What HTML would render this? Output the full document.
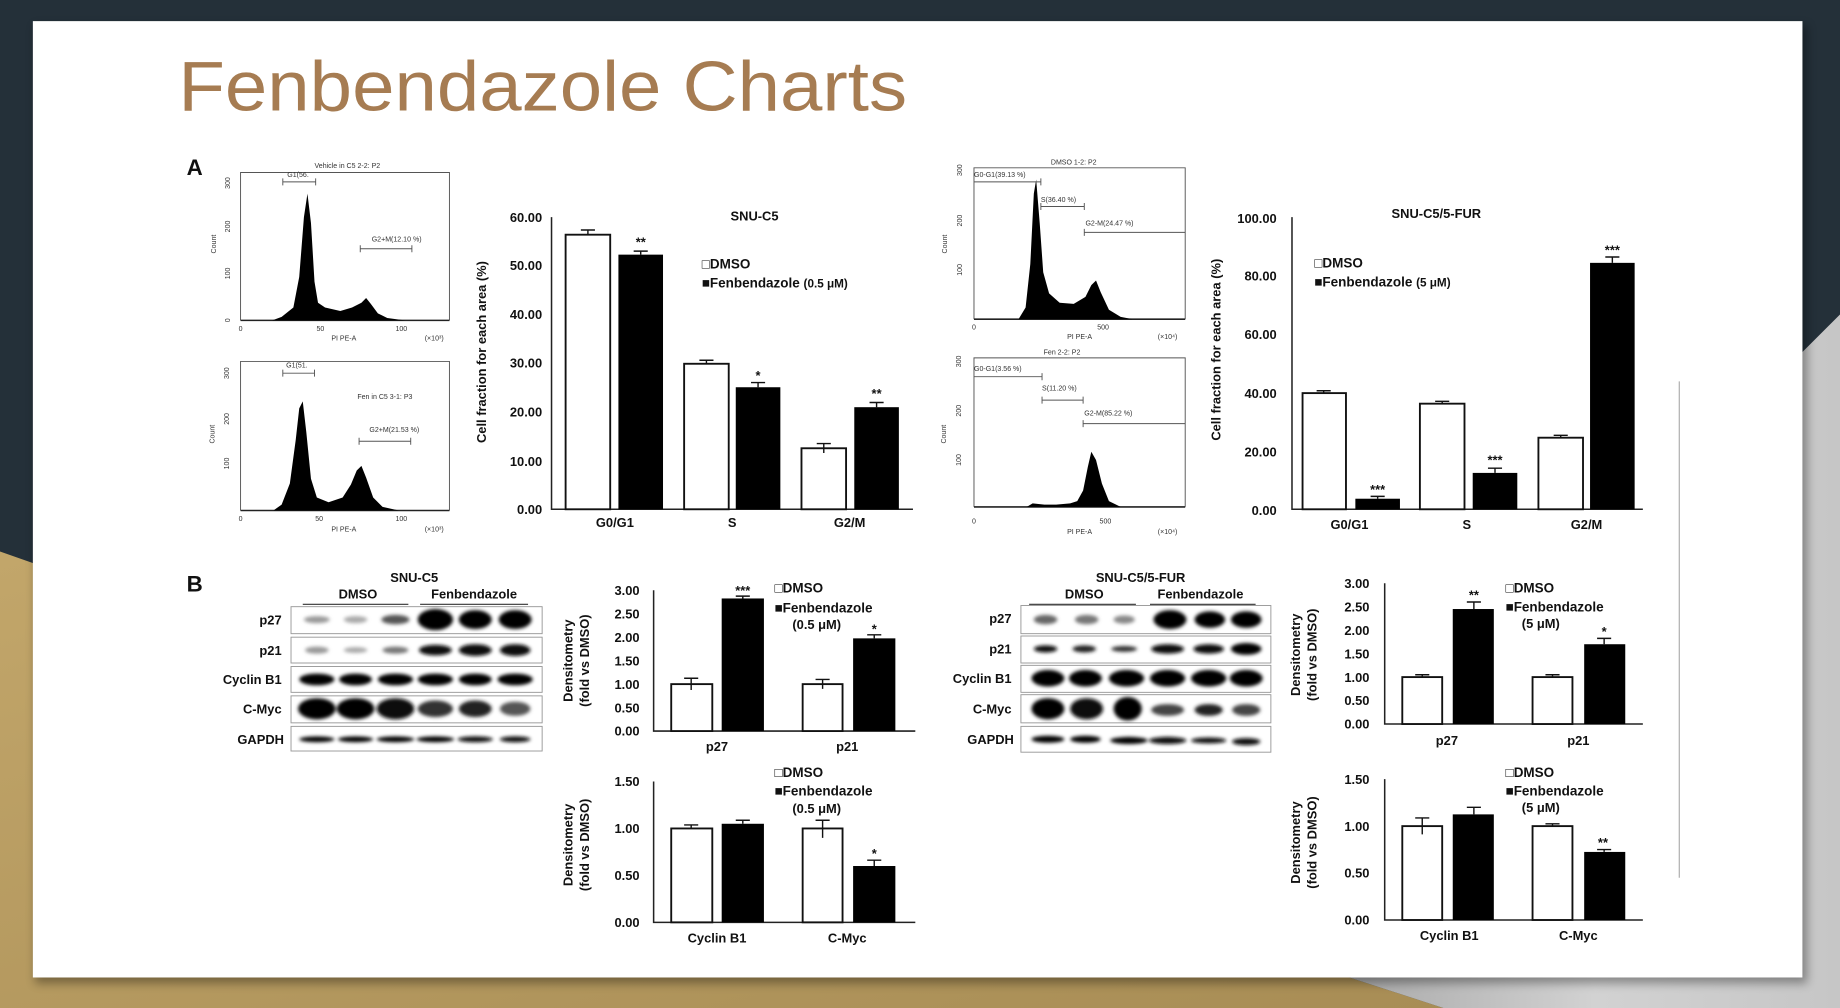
<!DOCTYPE html>
<html><head><meta charset="utf-8">
<style>
html,body{margin:0;padding:0;width:1840px;height:1008px;overflow:hidden;background:#243039;}
svg{display:block}
text{font-family:"Liberation Sans",Arial,sans-serif;}
.t{font-weight:bold;font-size:11px;fill:#111}
.s{font-size:6px;fill:#333}
.bw{fill:#fff;stroke:#111;stroke-width:1.6}
.bk{fill:#000}
.ax{stroke:#222;stroke-width:1.3;fill:none}
.eb{stroke:#111;stroke-width:1.2;fill:none}
.lg{font-weight:bold;font-size:11.5px;fill:#111}
.gr{stroke:#555;stroke-width:0.8;fill:none}
</style></head>
<body>
<svg width="1840" height="1008" viewBox="0 0 1568 859" preserveAspectRatio="none" xmlns="http://www.w3.org/2000/svg">
<defs>
<linearGradient id="gold" x1="0" y1="0" x2="1" y2="1"><stop offset="0" stop-color="#c2a66a"/><stop offset="1" stop-color="#a88d55"/></linearGradient>
<linearGradient id="gray" x1="0" y1="0" x2="1" y2="0"><stop offset="0" stop-color="#a9a9a9"/><stop offset="0.5" stop-color="#d2d2d2"/><stop offset="1" stop-color="#c6c6c6"/></linearGradient>
<filter id="bl" x="-20%" y="-50%" width="140%" height="200%"><feGaussianBlur stdDeviation="1.6"/></filter>
<filter id="sh" x="-5%" y="-5%" width="110%" height="110%"><feGaussianBlur stdDeviation="4"/></filter>
</defs>
<rect width="1568" height="859" fill="#243039"/>
<polygon points="0,470 40,484 1150,833 1230,859 0,859" fill="url(#gold)"/>
<polygon points="1536,300 1568,268 1568,859 1230,859 1150,833 1536,833" fill="url(#gray)"/>
<rect x="30" y="22" width="1510" height="816" fill="#000" opacity="0.35" filter="url(#sh)"/>
<rect x="28" y="18" width="1508" height="815" fill="#fff"/>

<text x="152" y="94" font-size="60" fill="#a67c52" textLength="621" lengthAdjust="spacingAndGlyphs">Fenbendazole Charts</text>

<!-- A label -->
<text x="159" y="149" font-size="19" font-weight="bold" fill="#111">A</text>
<text x="159" y="504" font-size="19" font-weight="bold" fill="#111">B</text>

<!-- Histogram top-left -->
<g>
<polyline class="gr" points="205,273 205,147 383,147 383,273"/>
<line class="ax" x1="205" y1="273" x2="383" y2="273"/>
<path d="M232,273 L240,270 L250,262 L255,236 L259,185 L262,165 L265,190 L268,240 L271,258 L277,262 L290,265 L300,262 L308,258 L312,254 L316,259 L322,267 L330,271 L345,273 Z" fill="#000"/>
<text class="s" x="296" y="143" text-anchor="middle">Vehicle in C5 2-2: P2</text>
<text class="s" x="254" y="151" text-anchor="middle">G1(56.</text>
<path class="gr" d="M241,155 H269 M241,152 V158 M269,152 V158"/>
<text class="s" x="338" y="206" text-anchor="middle">G2+M(12.10 %)</text>
<path class="gr" d="M307,212 H351 M307,209 V215 M351,209 V215"/>
<text class="s" x="205" y="282" text-anchor="middle">0</text>
<text class="s" x="273" y="282" text-anchor="middle">50</text>
<text class="s" x="342" y="282" text-anchor="middle">100</text>
<text class="s" x="293" y="290" text-anchor="middle">PI PE-A</text>
<text class="s" x="370" y="290" text-anchor="middle">(×10³)</text>
<text class="s" transform="translate(184,208) rotate(-90)" text-anchor="middle">Count</text>
<text class="s" transform="translate(196,156) rotate(-90)" text-anchor="middle">300</text>
<text class="s" transform="translate(196,193) rotate(-90)" text-anchor="middle">200</text>
<text class="s" transform="translate(196,233) rotate(-90)" text-anchor="middle">100</text>
<text class="s" transform="translate(196,273) rotate(-90)" text-anchor="middle">0</text>
</g>
<!-- Histogram bottom-left -->
<g>
<polyline class="gr" points="205,435 205,308 383,308 383,435"/>
<line class="ax" x1="205" y1="435" x2="383" y2="435"/>
<path d="M233,435 L240,430 L247,412 L252,375 L255,348 L258,342 L261,368 L265,408 L270,424 L280,428 L292,424 L299,413 L304,401 L308,397 L312,407 L318,424 L326,432 L340,435 Z" fill="#000"/>
<text class="s" x="253" y="313" text-anchor="middle">G1(51.</text>
<path class="gr" d="M241,318 H268 M241,315 V321 M268,315 V321"/>
<text class="s" x="328" y="340" text-anchor="middle">Fen in C5 3-1: P3</text>
<text class="s" x="336" y="368" text-anchor="middle">G2+M(21.53 %)</text>
<path class="gr" d="M306,376 H350 M306,373 V379 M350,373 V379"/>
<text class="s" x="205" y="444" text-anchor="middle">0</text>
<text class="s" x="272" y="444" text-anchor="middle">50</text>
<text class="s" x="342" y="444" text-anchor="middle">100</text>
<text class="s" x="293" y="453" text-anchor="middle">PI PE-A</text>
<text class="s" x="370" y="453" text-anchor="middle">(×10³)</text>
<text class="s" transform="translate(183,370) rotate(-90)" text-anchor="middle">Count</text>
<text class="s" transform="translate(195,318) rotate(-90)" text-anchor="middle">300</text>
<text class="s" transform="translate(195,357) rotate(-90)" text-anchor="middle">200</text>
<text class="s" transform="translate(195,395) rotate(-90)" text-anchor="middle">100</text>
</g>

<!-- SNU-C5 bar chart -->
<g>
<text class="t" x="643" y="188" text-anchor="middle">SNU-C5</text>
<g class="t" text-anchor="end">
<text x="462" y="189">60.00</text><text x="462" y="230">50.00</text><text x="462" y="272">40.00</text>
<text x="462" y="313">30.00</text><text x="462" y="355">20.00</text><text x="462" y="397">10.00</text><text x="462" y="438">0.00</text>
</g>
<text class="t" transform="translate(414,300) rotate(-90)" text-anchor="middle" font-size="10.5">Cell fraction for each area (%)</text>
<path class="ax" d="M470,185 V434 H778"/>
<rect class="bw" x="482" y="200" width="38" height="234"/>
<rect class="bk" x="527" y="217" width="38" height="217"/>
<rect class="bw" x="583" y="310" width="38" height="124"/>
<rect class="bk" x="627" y="330" width="38" height="104"/>
<rect class="bw" x="683" y="382" width="38" height="52"/>
<rect class="bk" x="728" y="347" width="38" height="87"/>
<path class="eb" d="M501,200 V196 M495,196 H507 M546,217 V214 M540,214 H552 M602,310 V307 M596,307 H608 M646,330 V326 M640,326 H652 M702,382 V378 M696,378 H708 M702,382 V386 M747,347 V343 M741,343 H753"/>
<g class="t" text-anchor="middle"><text x="546" y="210">**</text><text x="646" y="324">*</text><text x="747" y="339">**</text>
<text x="524" y="449">G0/G1</text><text x="624" y="449">S</text><text x="724" y="449">G2/M</text></g>
<text class="lg" x="598" y="229">□DMSO</text>
<text class="lg" x="598" y="245">■Fenbendazole <tspan font-size="10">(0.5 μM)</tspan></text>
</g>

<!-- Histogram top-right -->
<g>
<polyline class="gr" points="830,272 830,143 1010,143 1010,272"/>
<line class="ax" x1="830" y1="272" x2="1010" y2="272"/>
<path d="M868,272 L874,262 L878,225 L881,165 L883,153 L886,190 L889,232 L894,250 L903,258 L915,259 L925,253 L930,243 L934,239 L938,249 L945,264 L955,270 L965,272 Z" fill="#000"/>
<text class="s" x="915" y="140" text-anchor="middle">DMSO 1-2: P2</text>
<text class="s" x="830" y="151">G0-G1(39.13 %)</text>
<path class="gr" d="M830,155 H887 M887,152 V158"/>
<text class="s" x="887" y="172">S(36.40 %)</text>
<path class="gr" d="M887,176 H924 M887,173 V179 M924,173 V179"/>
<text class="s" x="925" y="192">G2-M(24.47 %)</text>
<path class="gr" d="M924,198 H1010 M924,195 V201"/>
<text class="s" x="830" y="281" text-anchor="middle">0</text>
<text class="s" x="940" y="281" text-anchor="middle">500</text>
<text class="s" x="920" y="289" text-anchor="middle">PI PE-A</text>
<text class="s" x="995" y="289" text-anchor="middle">(×10⁴)</text>
<text class="s" transform="translate(807,208) rotate(-90)" text-anchor="middle">Count</text>
<text class="s" transform="translate(820,145) rotate(-90)" text-anchor="middle">300</text>
<text class="s" transform="translate(820,188) rotate(-90)" text-anchor="middle">200</text>
<text class="s" transform="translate(820,230) rotate(-90)" text-anchor="middle">100</text>
</g>
<!-- Histogram bottom-right -->
<g>
<polyline class="gr" points="830,432 830,305 1010,305 1010,432"/>
<line class="ax" x1="830" y1="432" x2="1010" y2="432"/>
<path d="M875,432 L880,429 L890,430 L900,430 L912,429 L918,427 L923,418 L927,398 L930,385 L934,392 L939,412 L945,427 L955,432 Z" fill="#000"/>
<text class="s" x="905" y="302" text-anchor="middle">Fen 2-2: P2</text>
<text class="s" x="830" y="316">G0-G1(3.56 %)</text>
<path class="gr" d="M830,321 H888 M888,318 V324"/>
<text class="s" x="888" y="333">S(11.20 %)</text>
<path class="gr" d="M888,341 H923 M888,338 V344 M923,338 V344"/>
<text class="s" x="924" y="354">G2-M(85.22 %)</text>
<path class="gr" d="M923,361 H1010 M923,358 V364"/>
<text class="s" x="830" y="446" text-anchor="middle">0</text>
<text class="s" x="942" y="446" text-anchor="middle">500</text>
<text class="s" x="920" y="455" text-anchor="middle">PI PE-A</text>
<text class="s" x="995" y="455" text-anchor="middle">(×10⁴)</text>
<text class="s" transform="translate(806,370) rotate(-90)" text-anchor="middle">Count</text>
<text class="s" transform="translate(819,308) rotate(-90)" text-anchor="middle">300</text>
<text class="s" transform="translate(819,350) rotate(-90)" text-anchor="middle">200</text>
<text class="s" transform="translate(819,392) rotate(-90)" text-anchor="middle">100</text>
</g>

<!-- SNU-C5/5-FUR bar chart -->
<g>
<text class="t" x="1224" y="186" text-anchor="middle">SNU-C5/5-FUR</text>
<g class="t" text-anchor="end">
<text x="1088" y="190">100.00</text><text x="1088" y="239">80.00</text><text x="1088" y="289">60.00</text>
<text x="1088" y="339">40.00</text><text x="1088" y="389">20.00</text><text x="1088" y="439">0.00</text>
</g>
<text class="t" transform="translate(1040,298) rotate(-90)" text-anchor="middle" font-size="10.5">Cell fraction for each area (%)</text>
<path class="ax" d="M1101,185 V434 H1400"/>
<rect class="bw" x="1110" y="335" width="37" height="99"/>
<rect class="bk" x="1155" y="425" width="38" height="9"/>
<rect class="bw" x="1210" y="344" width="38" height="90"/>
<rect class="bk" x="1255" y="403" width="38" height="31"/>
<rect class="bw" x="1311" y="373" width="38" height="61"/>
<rect class="bk" x="1355" y="224" width="38" height="210"/>
<path class="eb" d="M1128,335 V333 M1122,333 H1134 M1174,425 V423 M1168,423 H1180 M1229,344 V342 M1223,342 H1235 M1274,403 V399 M1268,399 H1280 M1330,373 V371 M1324,371 H1336 M1374,224 V219 M1368,219 H1380"/>
<g class="t" text-anchor="middle"><text x="1174" y="421">***</text><text x="1274" y="396">***</text><text x="1374" y="217">***</text>
<text x="1150" y="451">G0/G1</text><text x="1250" y="451">S</text><text x="1352" y="451">G2/M</text></g>
<text class="lg" x="1120" y="228">□DMSO</text>
<text class="lg" x="1120" y="244">■Fenbendazole <tspan font-size="10">(5 μM)</tspan></text>
</g>
<line x1="1431" y1="325" x2="1431" y2="748" stroke="#999" stroke-width="0.8"/>

<!-- Blot left -->
<g>
<text class="t" x="353" y="496" text-anchor="middle">SNU-C5</text>
<text class="t" x="305" y="510" text-anchor="middle">DMSO</text>
<text class="t" x="404" y="510" text-anchor="middle">Fenbendazole</text>
<path d="M258,515 H348 M358,515 H450" stroke="#333" stroke-width="1"/>
<g class="t" text-anchor="end"><text x="240" y="532">p27</text><text x="240" y="558">p21</text><text x="240" y="583">Cyclin B1</text><text x="240" y="608">C-Myc</text><text x="242" y="634">GAPDH</text></g>
<g fill="#fff" stroke="#999" stroke-width="0.8">
<rect x="248" y="517" width="214" height="23"/><rect x="248" y="543" width="214" height="22"/><rect x="248" y="568" width="214" height="22"/><rect x="248" y="593" width="214" height="23"/><rect x="248" y="619" width="214" height="21"/></g>
<g filter="url(#bl)">
<ellipse cx="270" cy="528" rx="11" ry="3" fill="#999"/><ellipse cx="303" cy="528" rx="10" ry="3" fill="#aaa"/><ellipse cx="337" cy="528" rx="12" ry="4" fill="#555"/>
<ellipse cx="371" cy="528" rx="15" ry="9" fill="#000"/><ellipse cx="405" cy="528" rx="14" ry="8" fill="#000"/><ellipse cx="439" cy="528" rx="14" ry="8" fill="#000"/>
<ellipse cx="270" cy="554" rx="10" ry="3" fill="#999"/><ellipse cx="303" cy="554" rx="10" ry="2.5" fill="#aaa"/><ellipse cx="337" cy="554" rx="11" ry="3" fill="#777"/>
<ellipse cx="371" cy="554" rx="14" ry="4.5" fill="#111"/><ellipse cx="405" cy="554" rx="14" ry="5" fill="#111"/><ellipse cx="439" cy="554" rx="13" ry="5" fill="#111"/>
<ellipse cx="270" cy="579" rx="15" ry="5" fill="#000"/><ellipse cx="303" cy="579" rx="14" ry="5" fill="#000"/><ellipse cx="337" cy="579" rx="15" ry="5" fill="#000"/>
<ellipse cx="371" cy="579" rx="15" ry="5" fill="#000"/><ellipse cx="405" cy="579" rx="14" ry="5" fill="#000"/><ellipse cx="439" cy="579" rx="15" ry="5" fill="#000"/>
<ellipse cx="270" cy="604" rx="16" ry="9" fill="#000"/><ellipse cx="303" cy="604" rx="16" ry="9" fill="#000"/><ellipse cx="337" cy="604" rx="16" ry="9" fill="#111"/>
<ellipse cx="371" cy="604" rx="15" ry="7" fill="#333"/><ellipse cx="405" cy="604" rx="14" ry="7" fill="#222"/><ellipse cx="439" cy="604" rx="13" ry="6" fill="#555"/>
<ellipse cx="270" cy="630" rx="15" ry="2.5" fill="#000"/><ellipse cx="303" cy="630" rx="15" ry="2.5" fill="#000"/><ellipse cx="337" cy="630" rx="16" ry="2.5" fill="#000"/>
<ellipse cx="371" cy="630" rx="16" ry="2.5" fill="#000"/><ellipse cx="405" cy="630" rx="15" ry="2.5" fill="#111"/><ellipse cx="439" cy="630" rx="13" ry="2.5" fill="#111"/>
</g></g>

<!-- Blot right -->
<g>
<text class="t" x="972" y="496" text-anchor="middle">SNU-C5/5-FUR</text>
<text class="t" x="924" y="510" text-anchor="middle">DMSO</text>
<text class="t" x="1023" y="510" text-anchor="middle">Fenbendazole</text>
<path d="M877,515 H968 M980,515 H1070" stroke="#333" stroke-width="1"/>
<g class="t" text-anchor="end"><text x="862" y="531">p27</text><text x="862" y="557">p21</text><text x="862" y="582">Cyclin B1</text><text x="862" y="608">C-Myc</text><text x="864" y="634">GAPDH</text></g>
<g fill="#fff" stroke="#999" stroke-width="0.8">
<rect x="870" y="516" width="213" height="24"/><rect x="870" y="542" width="213" height="23"/><rect x="870" y="567" width="213" height="23"/><rect x="870" y="592" width="213" height="24"/><rect x="870" y="619" width="213" height="22"/></g>
<g filter="url(#bl)">
<ellipse cx="891" cy="528" rx="10" ry="4" fill="#666"/><ellipse cx="926" cy="528" rx="10" ry="4" fill="#777"/><ellipse cx="958" cy="528" rx="9" ry="3.5" fill="#888"/>
<ellipse cx="997" cy="528" rx="14" ry="8" fill="#000"/><ellipse cx="1031" cy="528" rx="13" ry="7" fill="#000"/><ellipse cx="1062" cy="528" rx="13" ry="7" fill="#000"/>
<ellipse cx="891" cy="553" rx="10" ry="3" fill="#111"/><ellipse cx="924" cy="553" rx="10" ry="3" fill="#222"/><ellipse cx="958" cy="553" rx="11" ry="2.5" fill="#333"/>
<ellipse cx="995" cy="553" rx="14" ry="4" fill="#111"/><ellipse cx="1030" cy="553" rx="13" ry="4" fill="#111"/><ellipse cx="1062" cy="553" rx="13" ry="5" fill="#000"/>
<ellipse cx="893" cy="578" rx="14" ry="7" fill="#000"/><ellipse cx="925" cy="578" rx="14" ry="7" fill="#000"/><ellipse cx="960" cy="578" rx="15" ry="7" fill="#000"/>
<ellipse cx="995" cy="578" rx="15" ry="7" fill="#000"/><ellipse cx="1030" cy="578" rx="15" ry="7" fill="#000"/><ellipse cx="1062" cy="578" rx="14" ry="7" fill="#000"/>
<ellipse cx="893" cy="604" rx="14" ry="9" fill="#000"/><ellipse cx="926" cy="604" rx="14" ry="9" fill="#111"/><ellipse cx="961" cy="604" rx="12" ry="10" fill="#000"/>
<ellipse cx="995" cy="605" rx="14" ry="5" fill="#444"/><ellipse cx="1030" cy="605" rx="12" ry="5" fill="#222"/><ellipse cx="1062" cy="605" rx="12" ry="5" fill="#444"/>
<ellipse cx="893" cy="630" rx="14" ry="3" fill="#000"/><ellipse cx="925" cy="630" rx="13" ry="3" fill="#000"/><ellipse cx="962" cy="631" rx="16" ry="3" fill="#000"/>
<ellipse cx="995" cy="631" rx="16" ry="3" fill="#111"/><ellipse cx="1030" cy="631" rx="15" ry="2.5" fill="#111"/><ellipse cx="1062" cy="632" rx="12" ry="3" fill="#111"/>
</g></g>

<!-- B chart 1 (left top) -->
<g>
<g class="t" text-anchor="end">
<text x="545" y="507">3.00</text><text x="545" y="527">2.50</text><text x="545" y="547">2.00</text><text x="545" y="567">1.50</text>
<text x="545" y="587">1.00</text><text x="545" y="607">0.50</text><text x="545" y="627">0.00</text></g>
<text class="t" transform="translate(488,563) rotate(-90)" text-anchor="middle" font-size="10">Densitometry</text>
<text class="t" transform="translate(502,563) rotate(-90)" text-anchor="middle" font-size="10">(fold vs DMSO)</text>
<path class="ax" d="M557,503 V623 H780"/>
<rect class="bw" x="572" y="583" width="35" height="40"/><rect class="bk" x="615" y="510" width="36" height="113"/>
<rect class="bw" x="684" y="583" width="34" height="40"/><rect class="bk" x="727" y="544" width="36" height="79"/>
<path class="eb" d="M589,583 V578 M583,578 H595 M589,583 V588 M633,510 V508 M627,508 H639 M701,583 V579 M695,579 H707 M701,583 V587 M745,544 V541 M739,541 H751"/>
<g class="t" text-anchor="middle"><text x="633" y="507">***</text><text x="745" y="540">*</text><text x="611" y="640">p27</text><text x="722" y="640">p21</text></g>
<text class="lg" x="660" y="505">□DMSO</text><text class="lg" x="660" y="522">■Fenbendazole</text>
<text class="t" x="696" y="536" text-anchor="middle" font-size="9">(0.5 μM)</text>
</g>
<!-- B chart 2 (left bottom) -->
<g>
<g class="t" text-anchor="end">
<text x="545" y="670">1.50</text><text x="545" y="710">1.00</text><text x="545" y="750">0.50</text><text x="545" y="790">0.00</text></g>
<text class="t" transform="translate(488,720) rotate(-90)" text-anchor="middle" font-size="10">Densitometry</text>
<text class="t" transform="translate(502,720) rotate(-90)" text-anchor="middle" font-size="10">(fold vs DMSO)</text>
<path class="ax" d="M557,666 V786 H780"/>
<rect class="bw" x="572" y="706" width="35" height="80"/><rect class="bk" x="615" y="702" width="36" height="84"/>
<rect class="bw" x="684" y="706" width="34" height="80"/><rect class="bk" x="727" y="738" width="36" height="48"/>
<path class="eb" d="M589,706 V703 M583,703 H595 M633,702 V699 M627,699 H639 M701,706 V699 M695,699 H707 M701,706 V714 M745,738 V733 M739,733 H751"/>
<g class="t" text-anchor="middle"><text x="745" y="731">*</text><text x="611" y="803">Cyclin B1</text><text x="722" y="803">C-Myc</text></g>
<text class="lg" x="660" y="662">□DMSO</text><text class="lg" x="660" y="678">■Fenbendazole</text>
<text class="t" x="696" y="693" text-anchor="middle" font-size="9">(0.5 μM)</text>
</g>
<!-- B chart 3 (right top) -->
<g>
<g class="t" text-anchor="end">
<text x="1167" y="501">3.00</text><text x="1167" y="521">2.50</text><text x="1167" y="541">2.00</text><text x="1167" y="561">1.50</text>
<text x="1167" y="581">1.00</text><text x="1167" y="601">0.50</text><text x="1167" y="621">0.00</text></g>
<text class="t" transform="translate(1108,558) rotate(-90)" text-anchor="middle" font-size="10">Densitometry</text>
<text class="t" transform="translate(1122,558) rotate(-90)" text-anchor="middle" font-size="10">(fold vs DMSO)</text>
<path class="ax" d="M1180,497 V617 H1400"/>
<rect class="bw" x="1195" y="577" width="34" height="40"/><rect class="bk" x="1238" y="519" width="35" height="98"/>
<rect class="bw" x="1306" y="577" width="34" height="40"/><rect class="bk" x="1350" y="549" width="35" height="68"/>
<path class="eb" d="M1212,577 V575 M1206,575 H1218 M1256,519 V513 M1250,513 H1262 M1323,577 V575 M1317,575 H1329 M1367,549 V544 M1361,544 H1373"/>
<g class="t" text-anchor="middle"><text x="1256" y="511">**</text><text x="1367" y="542">*</text><text x="1233" y="635">p27</text><text x="1345" y="635">p21</text></g>
<text class="lg" x="1283" y="505">□DMSO</text><text class="lg" x="1283" y="521">■Fenbendazole</text>
<text class="t" x="1313" y="535" text-anchor="middle" font-size="9">(5 μM)</text>
</g>
<!-- B chart 4 (right bottom) -->
<g>
<g class="t" text-anchor="end">
<text x="1167" y="668">1.50</text><text x="1167" y="708">1.00</text><text x="1167" y="748">0.50</text><text x="1167" y="788">0.00</text></g>
<text class="t" transform="translate(1108,718) rotate(-90)" text-anchor="middle" font-size="10">Densitometry</text>
<text class="t" transform="translate(1122,718) rotate(-90)" text-anchor="middle" font-size="10">(fold vs DMSO)</text>
<path class="ax" d="M1180,664 V784 H1400"/>
<rect class="bw" x="1195" y="704" width="34" height="80"/><rect class="bk" x="1238" y="694" width="35" height="90"/>
<rect class="bw" x="1306" y="704" width="34" height="80"/><rect class="bk" x="1350" y="726" width="35" height="58"/>
<path class="eb" d="M1212,704 V697 M1206,697 H1218 M1212,704 V711 M1256,694 V688 M1250,688 H1262 M1323,704 V702 M1317,702 H1329 M1367,726 V724 M1361,724 H1373"/>
<g class="t" text-anchor="middle"><text x="1366" y="722">**</text><text x="1235" y="801">Cyclin B1</text><text x="1345" y="801">C-Myc</text></g>
<text class="lg" x="1283" y="662">□DMSO</text><text class="lg" x="1283" y="678">■Fenbendazole</text>
<text class="t" x="1313" y="692" text-anchor="middle" font-size="9">(5 μM)</text>
</g>
</svg>
</body></html>
